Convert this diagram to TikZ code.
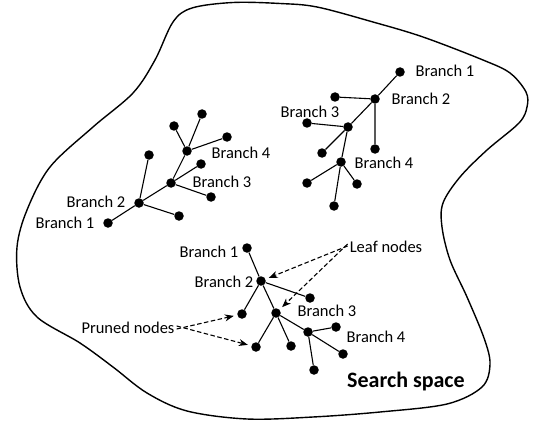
\documentclass[tikz,border=0pt]{standalone}
\usepackage{fontspec}
\setmainfont{Carlito}
\usetikzlibrary{arrows.meta}
\begin{document}
\begin{tikzpicture}[x=1pt,y=-1pt,
  dot/.style={circle,fill=black,inner sep=0pt,minimum size=9.5pt},
  edge/.style={line width=1.1pt},
  lbl/.style={inner sep=0pt,font=\fontsize{16.5}{18}\selectfont},
  pointer/.style={line width=1.1pt,dash pattern=on 4.5pt off 2.5pt,-{Stealth[length=9pt,width=7pt]},shorten >=3.5pt}]
\useasboundingbox (0,0) rectangle (535,425);
% search space outline
\draw[line width=1.4pt] plot[smooth cycle,tension=0.55] coordinates {
 (155,60) (173,22) (192,8) (233,2.5) (280,3.5) (317,7) (373,22) (423,37) (483,60)
 (510,73) (526,92) (527,107) (519,123) (487,150) (460,177) (443,203) (442,227)
 (450,260) (467,297) (484,338) (490,364) (482,387) (447,404) (380,412) (313,417)
 (247,419) (187,411) (147,393) (113,367) (80,343) (37,317) (20,287) (17,247)
 (27,210) (50,167) (93,127) (133,93)};
% tree 1
\node[dot] (t1b1) at (108,223) {};
\node[dot] (t1b2) at (139,203) {};
\node[dot] (t1a) at (149,155) {};
\node[dot] (t1c) at (179,216) {};
\node[dot] (t1b3) at (171,183) {};
\node[dot] (t1d) at (201,164) {};
\node[dot] (t1e) at (211,197) {};
\node[dot] (t1b4) at (187,151) {};
\node[dot] (t1f) at (174,126) {};
\node[dot] (t1g) at (202,114) {};
\node[dot] (t1h) at (227,137) {};
\draw[edge] (t1b1)--(t1b2) (t1b2)--(t1a) (t1b2)--(t1c) (t1b2)--(t1b3)
  (t1b3)--(t1d) (t1b3)--(t1e) (t1b3)--(t1b4) (t1b4)--(t1f) (t1b4)--(t1g) (t1b4)--(t1h);
\node[lbl] (l1b1) at (65,223) {Branch 1};
\node[lbl] (l1b2) at (96,202) {Branch 2};
\node[lbl] (l1b3) at (222,182) {Branch 3};
\node[lbl] (l1b4) at (241,153) {Branch 4};
% tree 2
\node[dot] (t2b1) at (400,72) {};
\node[dot] (t2b2) at (375,99) {};
\node[dot] (t2a) at (335,97) {};
\node[dot] (t2c) at (375,149) {};
\node[dot] (t2b3) at (348,127) {};
\node[dot] (t2d) at (307,123) {};
\node[dot] (t2e) at (322,153) {};
\node[dot] (t2b4) at (341,162) {};
\node[dot] (t2f) at (307,183) {};
\node[dot] (t2g) at (357,184) {};
\node[dot] (t2h) at (334,206) {};
\draw[edge] (t2b1)--(t2b2) (t2b2)--(t2a) (t2b2)--(t2c) (t2b2)--(t2b3)
  (t2b3)--(t2d) (t2b3)--(t2e) (t2b3)--(t2b4) (t2b4)--(t2f) (t2b4)--(t2g) (t2b4)--(t2h);
\node[lbl] (l2b1) at (445,71) {Branch 1};
\node[lbl] (l2b2) at (421,99) {Branch 2};
\node[lbl] (l2b3) at (310,112) {Branch 3};
\node[lbl] (l2b4) at (384,163) {Branch 4};
% tree 3
\node[dot] (t3b1) at (247,248) {};
\node[dot] (t3b2) at (261,281) {};
\node[dot] (t3a) at (310,298) {};
\node[dot] (t3c) at (242,314) {};
\node[dot] (t3b3) at (276,313) {};
\node[dot] (t3d) at (256,347) {};
\node[dot] (t3e) at (291,346) {};
\node[dot] (t3b4) at (308,332) {};
\node[dot] (t3f) at (336,327) {};
\node[dot] (t3g) at (343,354) {};
\node[dot] (t3h) at (314,370) {};
\draw[edge] (t3b1)--(t3b2) (t3b2)--(t3a) (t3b2)--(t3c) (t3b2)--(t3b3)
  (t3b3)--(t3d) (t3b3)--(t3e) (t3b3)--(t3b4) (t3b4)--(t3f) (t3b4)--(t3g) (t3b4)--(t3h);
\node[lbl] (l3b1) at (209,252) {Branch 1};
\node[lbl] (l3b2) at (224,282) {Branch 2};
\node[lbl] (l3b3) at (327,311) {Branch 3};
\node[lbl] (l3b4) at (376,337) {Branch 4};
% annotations
\node[lbl] (leaf) at (386,247) {Leaf nodes};
\node[lbl] (pruned) at (128,328) {Pruned nodes};
\node[inner sep=0pt,font=\fontsize{22}{25}\selectfont\bfseries] (space) at (406,382) {Search space};
\coordinate (lf1) at ([xshift=-2pt,yshift=1pt]leaf.west);
\coordinate (lf2) at ([xshift=-2pt,yshift=3pt]leaf.west);
\coordinate (pr1) at ([xshift=2pt,yshift=-1pt]pruned.east);
\coordinate (pr2) at ([xshift=2pt,yshift=2pt]pruned.east);
\draw[pointer] (lf1) -- (t3b2);
\draw[pointer] (lf2) -- (t3b3);
\draw[pointer] (pr1) -- (t3c);
\draw[pointer] (pr2) -- (t3d);
\end{tikzpicture}
\end{document}
